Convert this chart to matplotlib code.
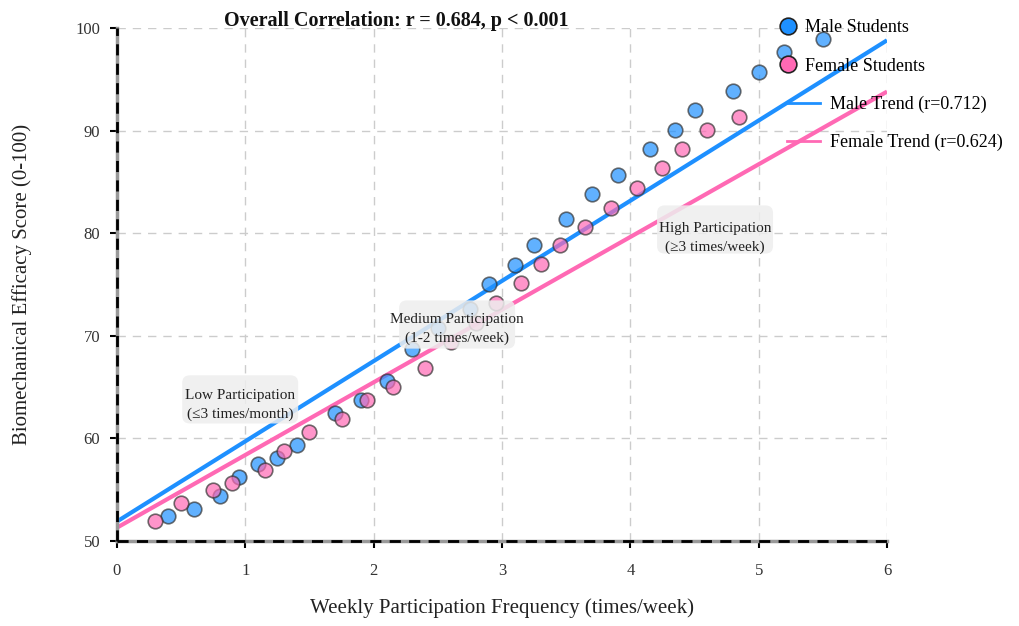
import matplotlib
matplotlib.use("Agg")
import matplotlib.pyplot as plt
from matplotlib.lines import Line2D
from matplotlib.patches import FancyBboxPatch

plt.rcParams['font.family'] = ['Liberation Serif', 'DejaVu Serif']

male_x = [0.40, 0.60, 0.80, 0.95, 1.10, 1.25, 1.40, 1.70, 1.90, 2.10, 2.30, 2.50, 2.75,
          2.90, 3.10, 3.25, 3.50, 3.70, 3.90, 4.15, 4.35, 4.50, 4.80, 5.00, 5.20, 5.50]
male_y = [52.4, 53.1, 54.4, 56.2, 57.5, 58.1, 59.4, 62.5, 63.7, 65.6, 68.7, 70.8, 72.6,
          75.0, 76.9, 78.8, 81.4, 83.8, 85.7, 88.2, 90.1, 92.0, 93.9, 95.7, 97.7, 98.9]
female_x = [0.30, 0.50, 0.75, 0.90, 1.15, 1.30, 1.50, 1.75, 1.95, 2.15, 2.40, 2.60,
            2.80, 2.95, 3.15, 3.30, 3.45, 3.65, 3.85, 4.05, 4.25, 4.40, 4.60, 4.85]
female_y = [51.9, 53.7, 55.0, 55.7, 56.9, 58.8, 60.6, 61.9, 63.7, 65.0, 66.9, 69.4,
            71.2, 73.2, 75.1, 77.0, 78.8, 80.6, 82.5, 84.4, 86.4, 88.2, 90.1, 91.3]

trend_x = [0, 6]
male_trend_y = [51.9, 98.8]
female_trend_y = [51.3, 93.8]

zone_labels = ["Low Participation\n(\u22643 times/month)",
               "Medium Participation\n(1-2 times/week)",
               "High Participation\n(\u22653 times/week)"]
zone_x = [0.96, 2.65, 4.66]
zone_y = [63.25, 70.66, 79.53]
zone_box_y = [63.8, 71.1, 80.36]

xticks = [0, 1, 2, 3, 4, 5, 6]
yticks = [50, 60, 70, 80, 90, 100]

BLUE = '#1E90FF'
PINK = '#FF69B4'

fig = plt.figure(figsize=(10.19, 6.26), dpi=100)
ax = fig.add_axes([0.1148, 0.1358, 0.8705 - 0.1148, 0.9553 - 0.1358])

ax.set_xlim(0, 6)
ax.set_ylim(50, 100)
ax.set_xticks(xticks)
ax.set_yticks(yticks)
ax.grid(True, color='#cccccc', linestyle=(0, (6, 5)), linewidth=1)
ax.set_axisbelow(True)

ax.plot(trend_x, male_trend_y, color=BLUE, lw=3, zorder=2, solid_capstyle='butt')
ax.plot(trend_x, female_trend_y, color=PINK, lw=3, zorder=2, solid_capstyle='butt')

ax.scatter(male_x, male_y, s=110, color=BLUE, alpha=0.7, edgecolors='#333333',
           linewidths=1.2, zorder=3)
ax.scatter(female_x, female_y, s=110, color=PINK, alpha=0.7, edgecolors='#333333',
           linewidths=1.2, zorder=3)

BOX_W = 0.904
BOX_H = 4.7
for lab, zx, zy, by in zip(zone_labels, zone_x, zone_y, zone_box_y):
    box = FancyBboxPatch((zx - BOX_W / 2, by - BOX_H / 2), BOX_W, BOX_H,
                         boxstyle='round,pad=0,rounding_size=0.06',
                         mutation_aspect=128.33 / 10.26,
                         fc='#eeeeee', ec='none', alpha=0.85, zorder=5)
    ax.add_patch(box)
    ax.text(zx, zy, lab, ha='center', va='center', fontsize=11, color='#222222',
            linespacing=1.6, zorder=6)

for s in ['top', 'right']:
    ax.spines[s].set_visible(False)
for s in ['left', 'bottom']:
    ax.spines[s].set_color('#999999')
    ax.spines[s].set_linewidth(2.5)
ax.axhline(50, color='black', lw=2, ls=(0, (4, 3)), zorder=4, clip_on=False)
ax.axvline(0, color='black', lw=2, ls=(0, (4, 3)), zorder=4, clip_on=False)

ax.tick_params(axis='both', direction='out', length=5, width=1.5, color='black',
               labelsize=12, labelcolor='#333333')
ax.tick_params(axis='x', pad=11)
ax.tick_params(axis='y', pad=7)

ax.set_xlabel('Weekly Participation Frequency (times/week)', fontsize=15,
              color='#222222', labelpad=14)
ax.set_ylabel('Biomechanical Efficacy Score (0-100)', fontsize=15,
              color='#222222', labelpad=31)

fig.text(396 / 1019, 1 - 21 / 626, 'Overall Correlation: r = 0.684, p < 0.001',
         ha='center', va='center', fontsize=14.5, fontweight='bold', color='#111111')

h1 = [Line2D([], [], marker='o', ls='none', markersize=12, markerfacecolor=BLUE,
             markeredgecolor='#222222', markeredgewidth=1.2),
      Line2D([], [], marker='o', ls='none', markersize=12, markerfacecolor=PINK,
             markeredgecolor='#222222', markeredgewidth=1.2)]
leg1 = ax.legend(h1, ['Male Students', 'Female Students'], loc='upper left',
                 bbox_to_anchor=(770 / 1019, 1 - 10 / 626), bbox_transform=fig.transFigure,
                 frameon=False, fontsize=13, handlelength=1.0, handletextpad=0.45,
                 labelspacing=1.2, borderpad=0)
ax.add_artist(leg1)
h2 = [Line2D([], [], color=BLUE, lw=2), Line2D([], [], color=PINK, lw=2)]
ax.legend(h2, ['Male Trend (r=0.712)', 'Female Trend (r=0.624)'], loc='upper left',
          bbox_to_anchor=(778 / 1019, 1 - 87 / 626), bbox_transform=fig.transFigure,
          frameon=False, fontsize=13, handlelength=1.85, handletextpad=0.55,
          labelspacing=1.15, borderpad=0)

fig.savefig('out.png', dpi=100)
